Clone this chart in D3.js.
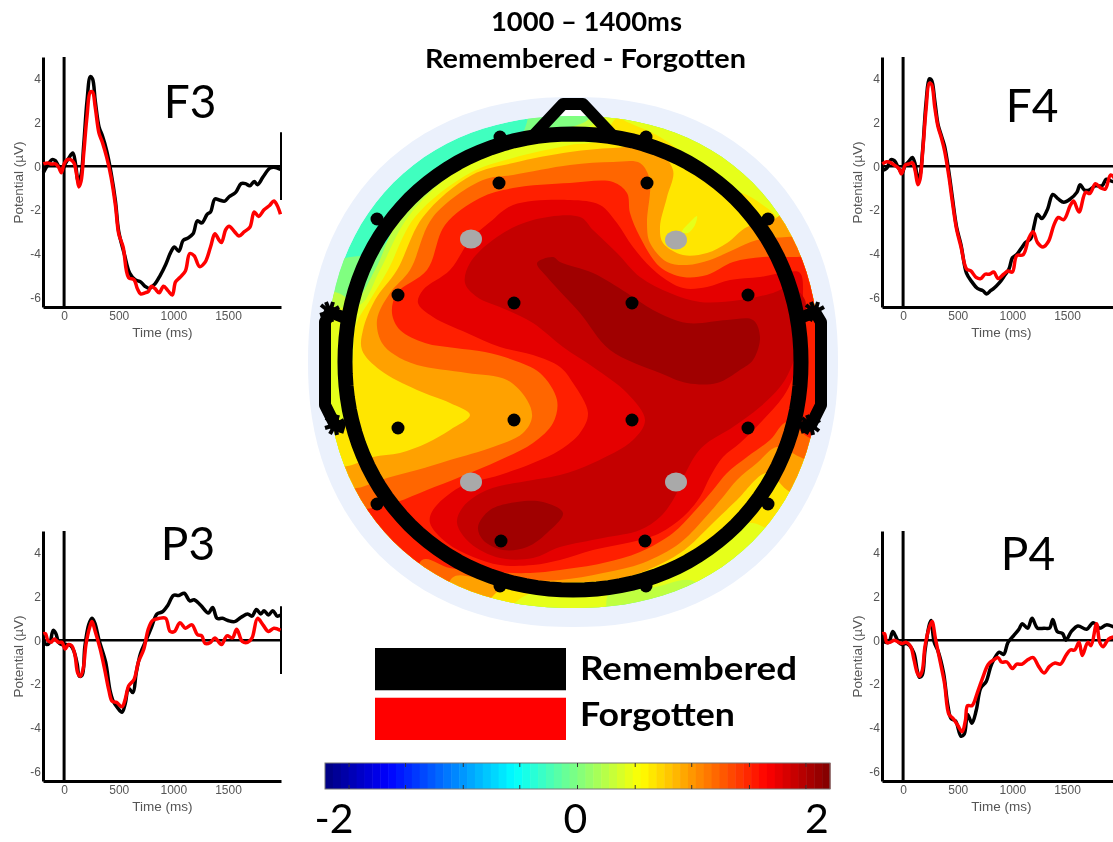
<!DOCTYPE html>
<html>
<head>
<meta charset="utf-8">
<script src="https://cdn.jsdelivr.net/npm/d3@7"></script>
<style>
body { margin: 0; background: #fff; overflow: hidden; }
svg { display: block; filter: blur(0.5px); }
text { font-family: Lato, sans-serif; fill: #000; }
.erp text { font-family: "Liberation Sans", sans-serif; fill: #555; font-size: 12px; }
.erp .axis-title { font-size: 13.5px; }
.erp .domain { stroke: #000; stroke-width: 3px; }
</style>
</head>
<body>
<div id="chart"></div>
<script>
// ERP traces, [time ms, potential uV]
var f3Remembered = [[-190,-.3],[-150,.05],[-110,.3],[-80,.25],[-50,0],[-20,-.2],[10,.1],[40,.35],[80,.6],[105,.1],[130,-.7],[155,-.4],[180,1],[210,3],[240,4.1],[260,4],[285,3],[320,1.8],[350,1.4],[390,.7],[430,-.3],[470,-1.6],[500,-3],[550,-4],[600,-4.9],[650,-5.2],[700,-5.3],[740,-5.5],[780,-5.6],[830,-5.4],[880,-5],[930,-4.5],[980,-3.9],[1010,-3.7],[1050,-3.9],[1090,-3.4],[1130,-3.3],[1180,-3.1],[1220,-2.5],[1260,-2.6],[1310,-2.2],[1340,-2.1],[1380,-1.5],[1420,-1.55],[1470,-1.6],[1510,-1.4],[1570,-1.2],[1620,-.8],[1660,-.8],[1700,-.9],[1740,-.7],[1770,-.85],[1820,-.5],[1880,-.1],[1920,-.05],[1980,-.15]];
var f3Forgotten = [[-190,.1],[-150,.15],[-120,.1],[-80,.1],[-50,-.05],[-25,-.3],[0,.1],[30,.3],[60,.3],[90,.15],[115,-.4],[135,-.95],[155,-.7],[180,.6],[210,2.3],[240,3.4],[260,3.4],[285,2.7],[320,1.5],[350,1.1],[390,.4],[430,-.5],[470,-1.8],[500,-3.1],[540,-3.7],[590,-5.1],[640,-5.2],[670,-5.6],[700,-5.85],[740,-5.8],[770,-5.75],[800,-5.5],[830,-5.6],[870,-5.8],[910,-5.5],[950,-5.7],[990,-5.9],[1020,-5.3],[1060,-5.1],[1110,-4.8],[1150,-4],[1190,-4.1],[1240,-4.6],[1290,-4.4],[1340,-3.7],[1380,-3.1],[1420,-3.4],[1440,-3.5],[1480,-2.9],[1510,-2.75],[1560,-3],[1600,-3.2],[1650,-3],[1700,-2.8],[1740,-2.1],[1780,-2.3],[1830,-2],[1880,-1.8],[1920,-1.6],[1950,-1.8],[1980,-2.2]];
var f4Remembered = [[-190,-.2],[-150,-.1],[-110,.3],[-80,.25],[-40,-.1],[-10,-.3],[20,.05],[50,.2],[85,.4],[110,.1],[135,-.6],[155,-.4],[180,.8],[210,2.9],[240,4],[260,3.95],[290,3],[320,1.9],[350,1.4],[380,.9],[420,-.3],[450,-1.4],[490,-2.8],[530,-3.6],[580,-4.9],[630,-5.3],[680,-5.6],[730,-5.7],[765,-5.85],[800,-5.7],[830,-5.6],[880,-5.35],[930,-5],[970,-4.7],[1000,-4.2],[1040,-4.05],[1090,-3.7],[1120,-3.5],[1170,-3.3],[1200,-2.7],[1230,-2.2],[1270,-2.4],[1320,-2],[1370,-1.3],[1420,-1.5],[1470,-1.65],[1530,-1.5],[1590,-1.2],[1620,-.85],[1660,-1.1],[1700,-1.1],[1760,-.9],[1820,-.9],[1860,-.6],[1920,-.7],[1980,-.5]];
var f4Forgotten = [[-190,.1],[-150,.2],[-110,.15],[-80,.05],[-40,-.1],[-15,-.35],[20,.05],[50,.1],[85,.15],[110,-.2],[135,-.85],[155,-.6],[180,.7],[210,2.6],[240,3.8],[260,3.75],[290,2.7],[320,1.8],[350,1.3],[380,.7],[420,-.5],[450,-1.6],[490,-2.9],[530,-3.7],[580,-4.7],[620,-4.8],[670,-5.1],[710,-5.15],[750,-4.95],[790,-4.95],[830,-4.85],[870,-5.15],[920,-4.95],[960,-4.8],[1000,-4.85],[1040,-4.1],[1100,-4.05],[1150,-3.3],[1190,-3],[1230,-3.5],[1280,-3.7],[1330,-3.45],[1380,-2.7],[1420,-2.35],[1470,-2.45],[1530,-1.8],[1560,-1.6],[1610,-2.1],[1670,-1.2],[1710,-1.25],[1760,-.8],[1810,-1],[1850,-1.05],[1900,-.4],[1950,-.6],[1980,-.4]];
var p3Remembered = [[-190,0],[-160,-.2],[-130,-.1],[-100,.45],[-75,.3],[-50,-.1],[-20,-.2],[20,-.2],[60,-.25],[90,-.5],[120,-1.1],[140,-1.65],[165,-1.6],[190,-.3],[225,.7],[255,1],[280,.8],[320,0],[380,-1],[420,-2.3],[450,-2.8],[490,-3.1],[530,-3.3],[560,-2.9],[590,-2.2],[630,-2.4],[660,-1.5],[700,-.6],[750,0],[800,.6],[850,1.2],[900,1.3],[950,1.6],[1000,2.05],[1050,2.05],[1100,2.15],[1150,1.8],[1190,1.85],[1250,1.6],[1320,1.25],[1360,1.5],[1400,1],[1450,1],[1500,.9],[1560,.85],[1620,1.05],[1680,1.2],[1720,1.1],[1760,1.4],[1800,1.2],[1830,1.35],[1870,1.15],[1910,1.35],[1950,1.1],[1980,1.15]];
var p3Forgotten = [[-190,.3],[-170,.3],[-150,0],[-120,-.1],[-90,.05],[-50,-.1],[-20,-.1],[10,-.4],[40,-.2],[70,-.25],[100,-.7],[125,-1.5],[150,-1.65],[175,-1.3],[200,-.2],[235,.6],[255,.85],[285,.4],[330,-.4],[370,-1.3],[410,-2.3],[440,-2.8],[480,-2.85],[530,-3.05],[560,-2.7],[590,-2.1],[640,-1.8],[680,-1],[730,-.4],[770,.5],[810,.9],[870,1],[930,1],[970,.4],[1010,.4],[1060,.8],[1110,.55],[1170,.7],[1220,.25],[1260,.2],[1290,-.15],[1340,-.1],[1380,.1],[1440,-.2],[1490,.2],[1540,.1],[1580,.5],[1630,-.05],[1680,-.1],[1720,.1],[1770,1],[1820,.7],[1870,.4],[1920,.55],[1980,.45]];
var p4Remembered = [[-190,0],[-160,-.1],[-130,-.1],[-95,.4],[-70,.2],[-40,-.1],[-10,-.2],[30,-.15],[60,-.25],[100,-.6],[130,-1.4],[150,-1.7],[175,-1.6],[200,-.5],[235,.6],[255,.9],[285,-.1],[320,-.5],[370,-1.5],[410,-3],[440,-3.6],[480,-3.7],[530,-4.4],[560,-4.3],[590,-3.4],[630,-3.8],[670,-3.2],[710,-2.2],[760,-1.9],[810,-1.1],[880,-.55],[920,-.65],[960,-.1],[1010,.2],[1060,.5],[1090,.75],[1140,.55],[1180,1],[1230,.55],[1290,.55],[1340,.55],[1370,.95],[1410,.4],[1460,.3],[1490,0],[1540,.4],[1600,.65],[1680,.5],[1740,.8],[1800,.55],[1860,.7],[1930,.6]];
var p4Forgotten = [[-190,.3],[-170,.3],[-150,-.1],[-120,-.1],[-80,0],[-40,-.1],[-10,-.15],[30,-.1],[70,-.3],[100,-.9],[130,-1.5],[150,-1.65],[175,-1.4],[200,-.3],[235,.5],[265,.85],[295,.1],[340,-1],[380,-2],[420,-3.4],[460,-3.6],[500,-3.9],[540,-4.2],[570,-3.7],[590,-3],[630,-3],[680,-2.4],[730,-1.7],[780,-1.1],[830,-.9],[870,-.8],[900,-1],[950,-1],[1000,-1.3],[1040,-1.1],[1090,-1.1],[1140,-.9],[1190,-.8],[1240,-1.2],[1290,-1.5],[1340,-1.2],[1390,-1.05],[1440,-1.1],[1490,-.7],[1530,-.45],[1570,-.45],[1610,-.1],[1640,-.7],[1690,-.1],[1720,-.25],[1770,.75],[1800,-.1],[1830,-.3],[1880,.05],[1930,.15]];

var timeTicks = [0, 500, 1000, 1500];
var potentialTicks = [4, 2, 0, -2, -4, -6];
var erpNames = ["F3", "F4", "P3", "P4"];

// scalp map: traced iso-potential outlines, in head units
var isoZero = [[0,165],[45,158],[78,150],[113,103],[160,68],[214,45],[227,22],[230,-20],[600,-20],[600,550],[0,550]];
var isoLime = [[0,195],[35,192],[55,200],[75,170],[100,117],[145,73],[185,48],[233,35],[290,18],[295,-10],[600,-10],[600,550],[0,550]];
var isoYellowLime = [[0,205],[30,207],[60,205],[80,170],[108,117],[153,73],[190,52],[250,40],[300,18],[300,-10],[600,-10],[600,550],[400,550],[395,482],[350,488],[310,492],[300,550],[0,550]];
var isoYellow = [[270,45],[213,58],[170,73],[115,117],[88,170],[70,200],[56,225],[53,260],[47,300],[45,325],[25,330],[0,350],[0,550],[195,550],[213,505],[240,490],[300,488],[380,470],[447,423],[475,430],[600,420],[600,140],[490,125],[467,108],[447,95],[417,87],[387,57],[360,37],[327,22],[317,18],[300,40]];
var isoLimeSpot = [[382,132],[390,122],[397,116],[395,125],[388,133]];
var isoOrange = [[270,52],[213,63],[172,75],[123,117],[97,170],[75,200],[63,230],[62,250],[80,270],[117,290],[150,303],[170,315],[150,330],[127,343],[100,353],[73,357],[52,365],[20,375],[20,560],[180,540],[190,500],[210,485],[260,483],[327,477],[380,453],[413,423],[437,400],[467,373],[487,390],[520,410],[600,400],[600,100],[500,100],[473,120],[447,127],[427,143],[407,153],[383,155],[363,143],[360,127],[367,97],[373,70],[353,48],[313,48]];
var isoDarkOrange = [[270,65],[213,75],[183,80],[133,117],[110,170],[90,193],[77,220],[82,243],[95,255],[117,265],[167,273],[207,280],[227,300],[232,317],[223,333],[193,347],[150,360],[117,370],[87,378],[62,387],[35,395],[35,560],[140,560],[152,478],[180,478],[220,480],[260,480],[303,473],[343,463],[380,443],[403,420],[423,397],[437,380],[457,363],[477,347],[500,357],[530,370],[600,370],[600,130],[520,135],[487,137],[457,140],[433,150],[410,160],[387,165],[367,162],[350,143],[347,123],[350,93],[350,80],[340,63],[313,62]];
var isoRedOrange = [[270,83],[213,88],[180,98],[145,125],[127,170],[97,193],[92,213],[100,230],[125,243],[155,248],[185,252],[213,260],[240,273],[257,300],[253,323],[233,343],[200,360],[160,377],[127,390],[97,402],[72,408],[50,415],[50,560],[110,560],[122,460],[150,468],[190,472],[230,473],[260,470],[303,463],[340,452],[373,433],[393,413],[413,390],[427,373],[447,357],[470,340],[487,322],[508,337],[530,345],[600,345],[600,150],[520,155],[497,157],[463,157],[433,162],[407,175],[383,177],[360,167],[340,137],[330,113],[327,93],[313,82]];
var isoRed = [[270,100],[213,105],[190,122],[170,140],[150,170],[123,190],[118,203],[133,217],[167,233],[200,247],[233,255],[260,267],[273,283],[288,313],[280,333],[260,350],[233,363],[200,375],[160,387],[133,410],[130,423],[147,443],[173,457],[200,465],[233,465],[260,460],[293,450],[340,440],[360,433],[383,417],[400,397],[410,377],[423,357],[440,343],[463,320],[483,297],[493,277],[500,240],[503,200],[500,173],[487,172],[460,177],[430,180],[407,187],[383,188],[357,173],[333,147],[317,123],[300,105]];
var isoDarkRed = [[280,117],[233,120],[197,137],[170,163],[165,183],[177,197],[207,210],[233,223],[263,247],[293,267],[327,293],[345,320],[333,340],[293,363],[260,375],[233,380],[187,390],[163,407],[157,423],[170,443],[200,458],[233,458],[260,447],[303,438],[340,430],[360,417],[373,400],[387,370],[397,353],[407,343],[433,327],[460,307],[480,287],[490,270],[500,240],[505,200],[490,187],[473,193],[440,200],[400,202],[370,193],[340,177],[317,153],[293,130]];
var isoDeepUpper = [[237,163],[253,157],[260,162],[293,173],[327,193],[353,210],[387,223],[427,220],[453,220],[460,237],[453,260],[440,270],[417,283],[387,283],[360,273],[310,250],[280,213],[247,177]];
var isoDeepLower = [[178,427],[190,410],[217,402],[243,402],[263,413],[247,433],[227,447],[203,450],[183,440]];

var isoValues = [0, .25, .4, .6, .4, .87, 1.1, 1.38, 1.6, 1.73, 1.87, 1.87];
var isoOutlines = [isoZero, isoLime, isoYellowLime, isoYellow, isoLimeSpot, isoOrange, isoDarkOrange, isoRedOrange, isoRed, isoDarkRed, isoDeepUpper, isoDeepLower];
var rimValue = -.25;

// electrodes and the grey F3/F4/P3/P4 sites, head units
var electrodes = [[200,37],[77,119],[199,83],[98,195],[214,203],[346,37],[468,119],[347,83],[448,195],[332,203],[98,328],[214,320],[77,404],[201,441],[200,486],[332,320],[448,328],[468,404],[345,441],[346,486]];
var greySites = [[171,139],[376,140],[171,382],[376,382]];

// head outline, head units
var headCentre = [273, 262];
var noseLine = [[233,36],[263,4],[283,4],[313,36]];
var earLeft = [[45,218],[30,212],[25,222],[25,305],[35,325],[45,328]];
var earRight = [[500,218],[515,212],[521,222],[521,305],[511,325],[500,328]];
var earStubs = [[-9,-7],[-4,-10],[3,-10],[9,-5],[-10,3],[8,6],[-5,9],[2,10]];
var headRadius = 228, scalpRadius = 246, discRadius = 265;
// the source picture is slightly square-shouldered on the diagonals
var headPower = 2.07, scalpPower = 2.2;

// colour bar
var jetValues = [-2, -1.5, -.5, .5, 1.5, 2];
var jetColours = ["#00007f", "#0000ff", "#00ffff", "#ffff00", "#ff0000", "#7f0000"];
var barTicks = [-1.9, -1.43, -.95, -.48, 0, .48, .95, 1.43, 1.9];
var barLabels = [-2, 0, 2];
var barSteps = d3.range(64);

var legendNames = ["Remembered", "Forgotten"];
var legendColours = ["#000", "#ff0000"];

var svg = d3.select("#chart").append("svg")
    .attr("width", 1113)
    .attr("height", 842);

var jet = d3.scaleLinear().domain(jetValues).range(jetColours).clamp(true);

// title
svg.append("text").attr("x", 491).attr("y", 31)
    .attr("textLength", 191).attr("lengthAdjust", "spacingAndGlyphs")
    .style("font-size", "26px").style("font-weight", 700).text("1000 \u2013 1400ms");
svg.append("text").attr("x", 425).attr("y", 68)
    .attr("textLength", 321).attr("lengthAdjust", "spacingAndGlyphs")
    .style("font-size", "26px").style("font-weight", 700).text("Remembered - Forgotten");

// scalp map
var headX = d3.scaleLinear().domain([8, 538]).range([308, 838]);
var headY = d3.scaleLinear().domain([-3, 527]).range([97, 627]);
var outline = d3.line().x(function(d) { return headX(d[0]); }).y(function(d) { return headY(d[1]); });
var smooth = d3.line().x(outline.x()).y(outline.y()).curve(d3.curveCatmullRomClosed.alpha(0.5));

function ringPath(r, power) {
  var pts = d3.range(0, 360, 3).map(function(a) {
    var c = Math.cos(a * Math.PI / 180), s = Math.sin(a * Math.PI / 180);
    var k = r / Math.pow(Math.pow(Math.abs(c), power) + Math.pow(Math.abs(s), power), 1 / power);
    return [headCentre[0] + k * c, headCentre[1] + k * s];
  });
  return outline(pts) + "Z";
}

svg.append("path").attr("d", ringPath(discRadius, scalpPower)).attr("fill", "#ebf1fc");
svg.append("path").attr("d", outline(noseLine)).attr("fill", "#fff");

svg.append("clipPath").attr("id", "scalp-clip").append("path").attr("d", ringPath(scalpRadius, scalpPower));

var scalp = svg.append("g").attr("clip-path", "url(#scalp-clip)");
scalp.append("path").attr("d", ringPath(scalpRadius, scalpPower)).attr("fill", jet(rimValue));
scalp.selectAll(".iso")
    .data(isoOutlines)
    .enter().append("path")
    .attr("class", "iso")
    .attr("d", smooth)
    .attr("fill", function(d, i) { return jet(isoValues[i]); });

// head ring, nose, ears
svg.append("path").attr("d", ringPath(headRadius, headPower))
    .attr("fill", "none").attr("stroke", "#000").attr("stroke-width", 15);
svg.append("path").attr("d", outline(noseLine)).attr("fill", "none")
    .attr("stroke", "#000").attr("stroke-width", 12).attr("stroke-linejoin", "round");
[earLeft, earRight].forEach(function(ear) {
  svg.append("path").attr("d", outline(ear)).attr("fill", "none")
      .attr("stroke", "#000").attr("stroke-width", 12).attr("stroke-linejoin", "round");
  [ear[1], ear[4]].forEach(function(c) {
    svg.selectAll(null).data(earStubs).enter().append("line")
        .attr("x1", headX(c[0])).attr("y1", headY(c[1]))
        .attr("x2", function(d) { return headX(c[0] + d[0]); })
        .attr("y2", function(d) { return headY(c[1] + d[1]); })
        .attr("stroke", "#000").attr("stroke-width", 4);
  });
});

svg.selectAll(".electrode").data(electrodes).enter().append("circle")
    .attr("class", "electrode")
    .attr("cx", function(d) { return headX(d[0]); })
    .attr("cy", function(d) { return headY(d[1]); })
    .attr("r", 6.5).attr("fill", "#000");
svg.selectAll(".site").data(greySites).enter().append("ellipse")
    .attr("class", "site")
    .attr("cx", function(d) { return headX(d[0]); })
    .attr("cy", function(d) { return headY(d[1]); })
    .attr("rx", 11).attr("ry", 9.5).attr("fill", "#a9a9a9");

// ERP panels
var erpLeft = { F3: 43, F4: 882, P3: 43, P4: 882 };
var erpTop = { F3: 57, F4: 57, P3: 531, P4: 531 };
var erpTraces = {
  F3: [f3Remembered, f3Forgotten], F4: [f4Remembered, f4Forgotten],
  P3: [p3Remembered, p3Forgotten], P4: [p4Remembered, p4Forgotten]
};
var erpLabelPos = { F3: [190, 118], F4: [1032, 122], P3: [188, 560], P4: [1028, 570] };

erpNames.forEach(function(name) {
  var left = erpLeft[name], top = erpTop[name];
  var x = d3.scaleLinear().domain([-193, 1985]).range([left, left + 238]);
  var y = d3.scaleLinear().domain([5, -6.45]).range([top, top + 250]);
  var g = svg.append("g").attr("class", "erp");

  g.append("g").attr("transform", "translate(0," + y(-6.45) + ")")
      .call(d3.axisBottom(x).tickValues(timeTicks).tickSize(0).tickPadding(4).tickFormat(String));
  g.append("g").attr("transform", "translate(" + left + ",0)")
      .call(d3.axisLeft(y).tickValues(potentialTicks).tickSize(0).tickPadding(2).tickFormat(String));

  g.append("text").attr("class", "axis-title").attr("x", x(900)).attr("y", y(-6.45) + 30)
      .attr("text-anchor", "middle").text("Time (ms)");
  g.append("text").attr("class", "axis-title")
      .attr("transform", "translate(" + (left - 20) + "," + y(-.75) + ") rotate(-90)")
      .attr("text-anchor", "middle").text("Potential (\u00b5V)");

  // zero lines
  g.append("line").attr("x1", x(0)).attr("x2", x(0)).attr("y1", y(5)).attr("y2", y(-6.45))
      .attr("stroke", "#000").attr("stroke-width", 3);
  g.append("line").attr("x1", left).attr("x2", x(1985)).attr("y1", y(0)).attr("y2", y(0))
      .attr("stroke", "#000").attr("stroke-width", 2.5);
  g.append("line").attr("x1", x(1985)).attr("x2", x(1985)).attr("y1", y(1.55)).attr("y2", y(-1.55))
      .attr("stroke", "#000").attr("stroke-width", 2);

  var trace = d3.line()
      .x(function(d) { return x(d[0]); })
      .y(function(d) { return y(d[1]); })
      .curve(d3.curveCatmullRom.alpha(0.5));
  g.selectAll(".trace").data(erpTraces[name]).enter().append("path")
      .attr("class", "trace")
      .attr("d", trace)
      .attr("fill", "none")
      .attr("stroke", function(d, i) { return legendColours[i]; })
      .attr("stroke-width", 3.5);

  svg.append("text").attr("x", erpLabelPos[name][0]).attr("y", erpLabelPos[name][1])
      .attr("text-anchor", "middle").style("font-size", "46px").text(name);
});

// legend
var legendY = d3.scaleBand().domain(legendNames).range([648, 740]).paddingInner(0.15);
svg.selectAll(".swatch").data(legendNames).enter().append("rect")
    .attr("class", "swatch")
    .attr("x", 375).attr("width", 191)
    .attr("y", function(d) { return legendY(d); })
    .attr("height", legendY.bandwidth())
    .attr("fill", function(d, i) { return legendColours[i]; });
svg.selectAll(".legend-label").data(legendNames).enter().append("text")
    .attr("class", "legend-label")
    .attr("x", 580)
    .attr("y", function(d, i) { return i == 0 ? 680 : 726; })
    .attr("textLength", function(d, i) { return i == 0 ? 217 : 155; })
    .attr("lengthAdjust", "spacingAndGlyphs")
    .style("font-size", "32px").style("font-weight", 700)
    .text(function(d) { return d; });

// colour bar
var barX = d3.scaleLinear().domain([-2.1, 2.1]).range([325, 830]);
var stepX = d3.scaleBand().domain(barSteps).range([325, 830]);
svg.selectAll(".step").data(barSteps).enter().append("rect")
    .attr("class", "step")
    .attr("x", function(d) { return stepX(d); })
    .attr("y", 763).attr("width", stepX.bandwidth() + 0.5).attr("height", 26)
    .attr("fill", function(d) { return jet((d + 0.5) / 64 * 4 - 2); });
svg.append("rect").attr("x", 325).attr("y", 763).attr("width", 505).attr("height", 26)
    .attr("fill", "none").attr("stroke", "#777").attr("stroke-width", 1);
svg.selectAll(".bar-tick").data(barTicks).enter().append("path")
    .attr("class", "bar-tick")
    .attr("d", function(d) {
      var px = barX(d);
      return "M" + px + ",763V767M" + px + ",785V789";
    })
    .attr("stroke", "#333").attr("stroke-width", 1);
var labelX = d3.scaleLinear().domain([-2, 2]).range([334, 817]);
svg.selectAll(".bar-label").data(barLabels).enter().append("text")
    .attr("class", "bar-label")
    .attr("x", function(d) { return labelX(d); })
    .attr("y", 833)
    .attr("text-anchor", "middle")
    .style("font-size", "41px")
    .text(function(d) { return d; });
</script>
</body>
</html>
